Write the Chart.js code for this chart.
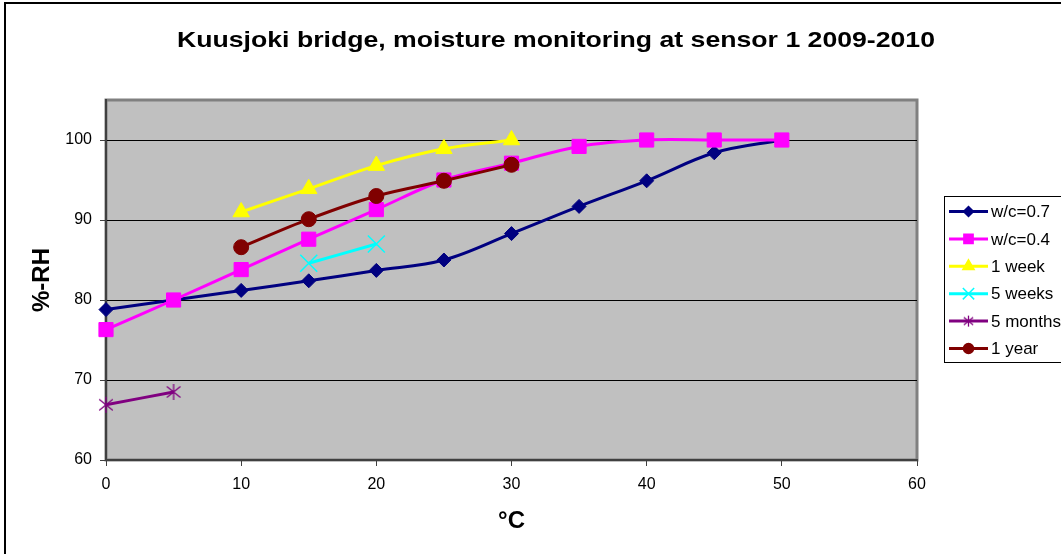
<!DOCTYPE html>
<html>
<head>
<meta charset="utf-8">
<script src="https://cdn.jsdelivr.net/npm/chart.js@4"></script>
<style>
  body { margin: 0; background: #fff; }
  #wrap { width: 1061px; height: 554px; }
</style>
</head>
<body>
<div id="wrap"><canvas id="chartRH" width="1061" height="554"></canvas></div>
<script>
// values (°C vs %-RH)
const titleText = 'Kuusjoki bridge, moisture monitoring at sensor 1 2009-2010';
const seriesNames = ['w/c=0.7', 'w/c=0.4', '1 week', '5 weeks', '5 months', '1 year'];

const temps07 = [0, 5, 10, 15, 20, 25, 30, 35, 40, 45, 50];
const rh07 = [78.8, 80.0, 81.2, 82.4, 83.7, 85.0, 88.3, 91.7, 94.9, 98.4, 100];

const temps04 = [0, 5, 10, 15, 20, 25, 30, 35, 40, 45, 50];
const rh04 = [76.3, 80.0, 83.8, 87.6, 91.3, 95.0, 97.1, 99.2, 100, 100, 100];

const tempsWeek = [10, 15, 20, 25, 30];
const rhWeek = [91.0, 93.9, 96.8, 98.9, 100];

const temps5Weeks = [15, 20];
const rh5Weeks = [84.6, 87.0];

const temps5Months = [0, 5];
const rh5Months = [66.9, 68.5];

const tempsYear = [10, 15, 20, 25, 30];
const rhYear = [86.6, 90.1, 93.0, 94.9, 96.9];

const xTicks = [0, 10, 20, 30, 40, 50, 60];
const yTicks = [60, 70, 80, 90, 100];

const colors = ['#000080', '#FF00FF', '#FFFF00', '#00FFFF', '#800080', '#800000'];
const FONT = "'Liberation Sans', Arial, sans-serif";
Chart.defaults.font.family = FONT;
Chart.defaults.color = '#000';

// excel style asterisk (X plus vertical bar), chart.js star has 8 arms
function asterisk(size, color) {
  const c = document.createElement('canvas');
  c.width = size;
  c.height = size;
  const g = c.getContext('2d');
  const m = size / 2, r = size / 2 - 1;
  g.strokeStyle = color;
  g.lineWidth = 1.3;
  g.beginPath();
  g.moveTo(m, m - r); g.lineTo(m, m + r);
  g.moveTo(m - r * 0.85, m - r * 0.7); g.lineTo(m + r * 0.85, m + r * 0.7);
  g.moveTo(m - r * 0.85, m + r * 0.7); g.lineTo(m + r * 0.85, m - r * 0.7);
  g.stroke();
  return c;
}

const markers = ['rectRot', 'rect', 'triangle', 'crossRot', asterisk(18, colors[4]), 'circle'];
const legendMarkers = ['rectRot', 'rect', 'triangle', 'crossRot', asterisk(13, colors[4]), 'circle'];
const markerSize = [7, 10, 9.5, 12, 9, 7.5];
const legendSize = [5, 6.5, 6.5, 8, 6, 5];

const xs = [temps07, temps04, tempsWeek, temps5Weeks, temps5Months, tempsYear];
const ys = [rh07, rh04, rhWeek, rh5Weeks, rh5Months, rhYear];

// grey plot area + frame round the whole chart
const backdrop = {
  id: 'backdrop',
  beforeDraw(chart) {
    const { ctx, chartArea: a } = chart;
    ctx.save();
    ctx.fillStyle = '#fff';
    ctx.fillRect(0, 0, chart.width, chart.height);
    ctx.strokeStyle = '#000';
    ctx.lineWidth = 2;
    ctx.strokeRect(5, 3, 1200, 700);
    ctx.fillStyle = '#C0C0C0';
    ctx.fillRect(a.left, a.top, a.right - a.left, a.bottom - a.top);
    ctx.strokeStyle = '#808080';
    ctx.lineWidth = 3;
    ctx.strokeRect(a.left, a.top, a.right - a.left, a.bottom - a.top);
    ctx.restore();
  }
};

// title and excel-like legend (line + marker)
const extras = {
  id: 'extras',
  afterDraw(chart) {
    const ctx = chart.ctx;
    ctx.save();
    ctx.fillStyle = '#000';
    ctx.font = 'bold 22px ' + FONT;
    ctx.textAlign = 'center';
    ctx.textBaseline = 'alphabetic';
    // excel spreads the title wider than plain arial at this height
    const w = ctx.measureText(titleText).width;
    ctx.translate(556, 47);
    ctx.scale(758 / w, 1);
    ctx.fillText(titleText, 0, 0);
    ctx.setTransform(1, 0, 0, 1, 0, 0);

    ctx.fillStyle = '#fff';
    ctx.fillRect(944.5, 196.5, 200, 166);
    ctx.strokeStyle = '#000';
    ctx.lineWidth = 1;
    ctx.strokeRect(944.5, 196.5, 200, 166);

    ctx.font = '17px ' + FONT;
    ctx.textAlign = 'left';
    ctx.textBaseline = 'middle';
    seriesNames.forEach((name, i) => {
      const y = 211.5 + i * 27.4;
      ctx.strokeStyle = colors[i];
      ctx.lineWidth = 3;
      ctx.beginPath();
      ctx.moveTo(949, y);
      ctx.lineTo(988, y);
      ctx.stroke();
      ctx.fillStyle = colors[i];
      ctx.lineWidth = 1.5;
      Chart.helpers.drawPoint(ctx, {
        pointStyle: legendMarkers[i], radius: legendSize[i], rotation: 0, borderWidth: 1.5
      }, 968.5, y);
      ctx.fillStyle = '#000';
      ctx.fillText(name, 991, y + 1);
    });
    ctx.restore();
  }
};

const datasets = seriesNames.map((name, i) => ({
  label: name,
  data: xs[i].map((x, j) => ({ x: x, y: ys[i][j] })),
  borderColor: colors[i],
  backgroundColor: colors[i],
  borderWidth: 3,
  tension: 0.35,
  pointStyle: markers[i],
  pointRadius: markerSize[i],
  pointHoverRadius: markerSize[i],
  pointBackgroundColor: colors[i],
  pointBorderColor: colors[i],
  pointBorderWidth: markers[i] === 'crossRot' ? 1.5 : 1,
  clip: false,
  order: seriesNames.length - i
}));

new Chart(document.getElementById('chartRH'), {
  type: 'line',
  data: { datasets: datasets },
  options: {
    responsive: false,
    animation: false,
    layout: { padding: { top: 100, right: 144, left: 0, bottom: 0 } },
    plugins: {
      legend: { display: false },
      title: { display: false },
      tooltip: { enabled: false }
    },
    scales: {
      x: {
        type: 'linear',
        min: 0,
        max: 60,
        afterFit: s => { s.height = 94; },
        afterBuildTicks: s => { s.ticks = xTicks.map(v => ({ value: v })); },
        ticks: { font: { size: 16 }, padding: 9, maxRotation: 0 },
        grid: { drawOnChartArea: false, drawTicks: true, tickLength: 6, color: '#404040', lineWidth: 1 },
        border: { color: '#404040', width: 2 },
        title: {
          display: true,
          text: '°C',
          font: { size: 24, weight: 'bold' },
          padding: { top: 0, bottom: 18 }
        }
      },
      y: {
        min: 60,
        max: 105,
        afterFit: s => { s.width = 106; },
        afterBuildTicks: s => { s.ticks = yTicks.map(v => ({ value: v })); },
        ticks: { font: { size: 16 }, padding: 8 },
        grid: { color: '#000', lineWidth: 1, tickLength: 6, tickColor: '#404040' },
        border: { color: '#404040', width: 2 },
        title: {
          display: true,
          text: '%-RH',
          font: { size: 24, weight: 'bold' },
          padding: { top: 28, bottom: 0 }
        }
      }
    }
  },
  plugins: [backdrop, extras]
});
</script>
</body>
</html>
